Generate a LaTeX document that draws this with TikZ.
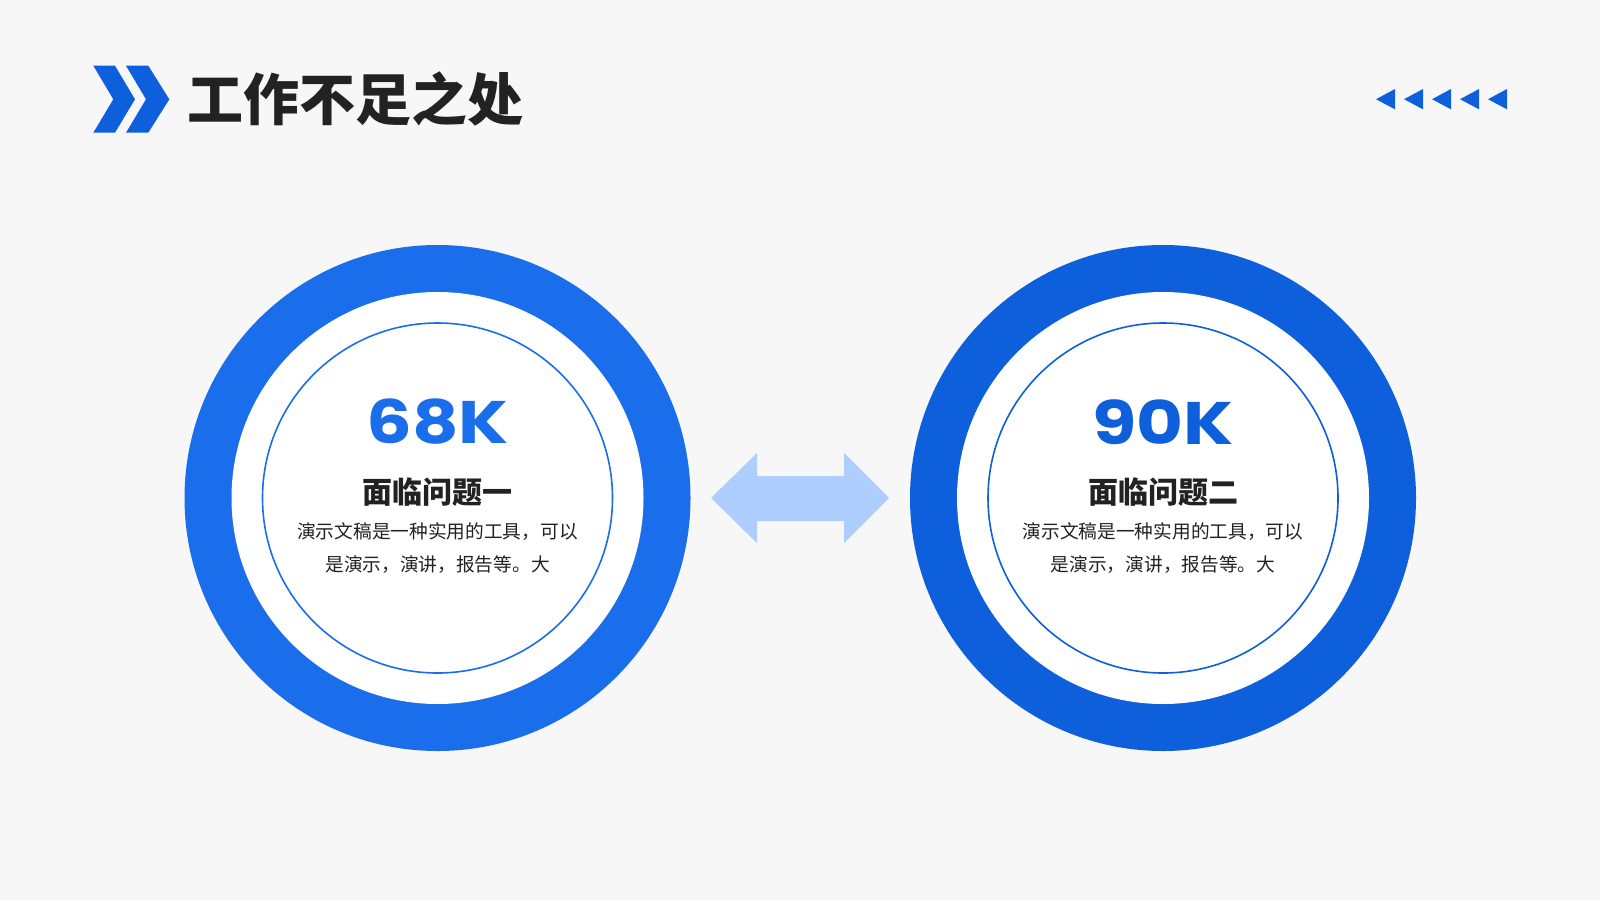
\documentclass[tikz,border=0pt]{standalone}
\usepackage{fontspec}
\newfontfamily\cjk{Noto Sans CJK SC}
\newfontfamily\numfont[FakeStretch=1.2]{Poppins}
\definecolor{bg}{HTML}{F7F7F8}
\definecolor{blueA}{HTML}{1A6EEB}
\definecolor{blueB}{HTML}{0D5FDB}
\definecolor{lightblue}{HTML}{ADCEFF}
\definecolor{titlegray}{HTML}{222222}
\tikzset{
  ring/.style={circle, minimum size=506pt, inner sep=0pt},
  whitedisc/.style={circle, fill=white, minimum size=412pt, inner sep=0pt},
  thinring/.style={circle, draw=#1, line width=1.6pt, minimum size=350pt, inner sep=0pt},
  bignum/.style={font=\numfont\bfseries\fontsize{60}{60}\selectfont, text=blueA},
  heading/.style={font=\cjk\bfseries\fontsize{30}{30}\selectfont, text=titlegray},
  body/.style={font=\cjk\fontsize{18.7}{33}\selectfont, text=titlegray, align=center},
  tri/.style={fill=blueB}
}
\begin{document}
\begin{tikzpicture}[x=1pt,y=-1pt]
\useasboundingbox (0,0) rectangle (1600,900);
\fill[bg] (0,0) rectangle (1600,900);
% chevrons
\fill[blueB] (93.3,65.7) -- (115,65.7) -- (135,99.3) -- (115,132.7) -- (93.3,132.7) -- (113.3,99.3) -- cycle;
\fill[blueB] (126,65.7) -- (148.3,65.7) -- (169.3,99.3) -- (148.3,132.7) -- (126,132.7) -- (146,99.3) -- cycle;
\node[anchor=west, font=\cjk\bfseries\fontsize{56}{56}\selectfont, text=titlegray, inner sep=0pt] (title) at (187,99) {工作不足之处};
% triangles
\foreach \i in {0,...,4}{
  \fill[tri] ({1376+28*\i},99.2) -- ({1395+28*\i},89) -- ({1395+28*\i},109.3) -- cycle;
}
% left circle
\node[ring, fill=blueA] (c1) at (437.5,498) {};
\node[whitedisc] (w1) at (c1.center) {};
\node[thinring=blueA] (t1) at (c1.center) {};
\node[bignum] (n1) at (437.5,422) {68K};
\node[heading] (h1) at (437.5,492) {面临问题一};
\node[body] (b1) at (437.5,548) {演示文稿是一种实用的工具，可以\\是演示，演讲，报告等。大};
% right circle
\node[ring, fill=blueB] (c2) at (1163,498) {};
\node[whitedisc] (w2) at (c2.center) {};
\node[thinring=blueB] (t2) at (c2.center) {};
\node[bignum, text=blueB] (n2) at (1163,422) {90K};
\node[heading] (h2) at (1163,492) {面临问题二};
\node[body] (b2) at (1163,548) {演示文稿是一种实用的工具，可以\\是演示，演讲，报告等。大};
% double arrow
\fill[lightblue] (711,498) -- (757,453) -- (757,476) -- (844,476) -- (844,453) -- (889,498) -- (844,543) -- (844,521) -- (757,521) -- (757,543) -- cycle;
\end{tikzpicture}
\end{document}
